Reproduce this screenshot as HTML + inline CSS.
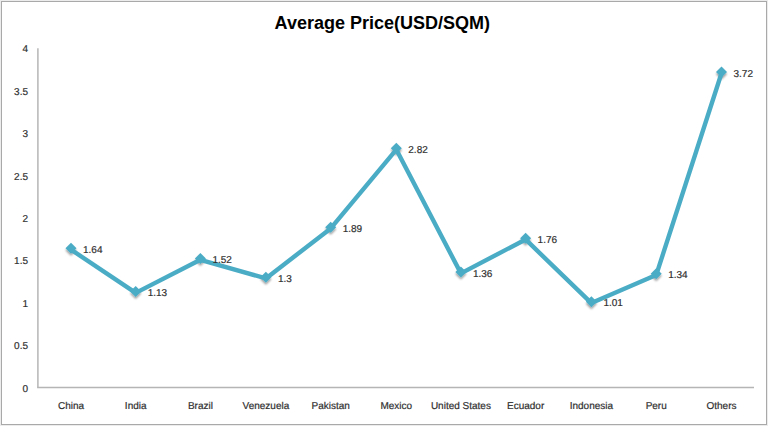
<!DOCTYPE html>
<html><head><meta charset="utf-8"><style>
html,body{margin:0;padding:0;background:#fff;}
svg{display:block;font-family:"Liberation Sans",sans-serif;}
</style></head><body>
<svg width="768" height="426" viewBox="0 0 768 426">
<defs><filter id="sh" x="-50%" y="-50%" width="200%" height="200%"><feGaussianBlur in="SourceAlpha" stdDeviation="1.3"/><feOffset dx="0.3" dy="2" result="b"/><feComponentTransfer><feFuncA type="linear" slope="0.4"/></feComponentTransfer><feMerge><feMergeNode/><feMergeNode in="SourceGraphic"/></feMerge></filter></defs>
<rect x="0" y="0" width="768" height="426" fill="#ececec"/>
<rect x="1.5" y="1.5" width="765" height="423" fill="#fff" stroke="#a9a9a9" stroke-width="1"/>
<line x1="37.9" y1="48.2" x2="37.9" y2="387.5" stroke="#bababa" stroke-width="1.6"/>
<line x1="37.1" y1="387.5" x2="754" y2="387.5" stroke="#b5b5b5" stroke-width="1.7"/>
<text x="382.3" y="29" text-anchor="middle" font-weight="bold" font-size="18" fill="#000">Average Price(USD/SQM)</text>
<text transform="translate(28.00,391.50)" text-rendering="geometricPrecision" text-anchor="end" font-size="10" fill="#303030" stroke="#303030" stroke-width="0.2" >0</text>
<text transform="translate(28.00,349.10)" text-rendering="geometricPrecision" text-anchor="end" font-size="10" fill="#303030" stroke="#303030" stroke-width="0.2" >0.5</text>
<text transform="translate(28.00,306.70)" text-rendering="geometricPrecision" text-anchor="end" font-size="10" fill="#303030" stroke="#303030" stroke-width="0.2" >1</text>
<text transform="translate(28.00,264.30)" text-rendering="geometricPrecision" text-anchor="end" font-size="10" fill="#303030" stroke="#303030" stroke-width="0.2" >1.5</text>
<text transform="translate(28.00,221.90)" text-rendering="geometricPrecision" text-anchor="end" font-size="10" fill="#303030" stroke="#303030" stroke-width="0.2" >2</text>
<text transform="translate(28.00,179.50)" text-rendering="geometricPrecision" text-anchor="end" font-size="10" fill="#303030" stroke="#303030" stroke-width="0.2" >2.5</text>
<text transform="translate(28.00,137.10)" text-rendering="geometricPrecision" text-anchor="end" font-size="10" fill="#303030" stroke="#303030" stroke-width="0.2" >3</text>
<text transform="translate(28.00,94.70)" text-rendering="geometricPrecision" text-anchor="end" font-size="10" fill="#303030" stroke="#303030" stroke-width="0.2" >3.5</text>
<text transform="translate(28.00,52.30)" text-rendering="geometricPrecision" text-anchor="end" font-size="10" fill="#303030" stroke="#303030" stroke-width="0.2" >4</text>
<text transform="translate(71.00,409.20)" text-rendering="geometricPrecision" text-anchor="middle" font-size="10" fill="#303030" stroke="#303030" stroke-width="0.2" >China</text>
<text transform="translate(135.70,409.20)" text-rendering="geometricPrecision" text-anchor="middle" font-size="10" fill="#303030" stroke="#303030" stroke-width="0.2" >India</text>
<text transform="translate(200.40,409.20)" text-rendering="geometricPrecision" text-anchor="middle" font-size="10" fill="#303030" stroke="#303030" stroke-width="0.2" >Brazil</text>
<text transform="translate(265.90,409.20)" text-rendering="geometricPrecision" text-anchor="middle" font-size="10" fill="#303030" stroke="#303030" stroke-width="0.2" >Venezuela</text>
<text transform="translate(330.70,409.20)" text-rendering="geometricPrecision" text-anchor="middle" font-size="10" fill="#303030" stroke="#303030" stroke-width="0.2" >Pakistan</text>
<text transform="translate(396.30,409.20)" text-rendering="geometricPrecision" text-anchor="middle" font-size="10" fill="#303030" stroke="#303030" stroke-width="0.2" >Mexico</text>
<text transform="translate(460.90,409.20)" text-rendering="geometricPrecision" text-anchor="middle" font-size="10" fill="#303030" stroke="#303030" stroke-width="0.2" >United States</text>
<text transform="translate(525.60,409.20)" text-rendering="geometricPrecision" text-anchor="middle" font-size="10" fill="#303030" stroke="#303030" stroke-width="0.2" >Ecuador</text>
<text transform="translate(591.40,409.20)" text-rendering="geometricPrecision" text-anchor="middle" font-size="10" fill="#303030" stroke="#303030" stroke-width="0.2" >Indonesia</text>
<text transform="translate(656.20,409.20)" text-rendering="geometricPrecision" text-anchor="middle" font-size="10" fill="#303030" stroke="#303030" stroke-width="0.2" >Peru</text>
<text transform="translate(721.50,409.20)" text-rendering="geometricPrecision" text-anchor="middle" font-size="10" fill="#303030" stroke="#303030" stroke-width="0.2" >Others</text>
<g filter="url(#sh)">
<polygon points="71.00,242.83 76.50,248.33 71.00,253.83 65.50,248.33" fill="#4BACC6"/>
<polygon points="135.70,286.08 141.20,291.58 135.70,297.08 130.20,291.58" fill="#4BACC6"/>
<polygon points="200.40,253.00 205.90,258.50 200.40,264.00 194.90,258.50" fill="#4BACC6"/>
<polygon points="265.90,271.66 271.40,277.16 265.90,282.66 260.40,277.16" fill="#4BACC6"/>
<polygon points="330.70,221.63 336.20,227.13 330.70,232.63 325.20,227.13" fill="#4BACC6"/>
<polygon points="396.30,142.76 401.80,148.26 396.30,153.76 390.80,148.26" fill="#4BACC6"/>
<polygon points="460.90,266.57 466.40,272.07 460.90,277.57 455.40,272.07" fill="#4BACC6"/>
<polygon points="525.60,232.65 531.10,238.15 525.60,243.65 520.10,238.15" fill="#4BACC6"/>
<polygon points="591.40,296.25 596.90,301.75 591.40,307.25 585.90,301.75" fill="#4BACC6"/>
<polygon points="656.20,268.27 661.70,273.77 656.20,279.27 650.70,273.77" fill="#4BACC6"/>
<polygon points="721.50,66.44 727.00,71.94 721.50,77.44 716.00,71.94" fill="#4BACC6"/>
</g>
<polyline transform="translate(0,1.3)" points="71.00,248.33 135.70,291.58 200.40,258.50 265.90,277.16 330.70,227.13 396.30,148.26 460.90,272.07 525.60,238.15 591.40,301.75 656.20,273.77 721.50,71.94" fill="none" stroke="#4BACC6" stroke-width="4.4" stroke-linejoin="round"/>
<text transform="translate(83.00,252.93)" text-rendering="geometricPrecision" text-anchor="start" font-size="10" fill="#303030" stroke="#303030" stroke-width="0.2" >1.64</text>
<text transform="translate(147.70,296.18)" text-rendering="geometricPrecision" text-anchor="start" font-size="10" fill="#303030" stroke="#303030" stroke-width="0.2" >1.13</text>
<text transform="translate(212.40,263.10)" text-rendering="geometricPrecision" text-anchor="start" font-size="10" fill="#303030" stroke="#303030" stroke-width="0.2" >1.52</text>
<text transform="translate(277.90,281.76)" text-rendering="geometricPrecision" text-anchor="start" font-size="10" fill="#303030" stroke="#303030" stroke-width="0.2" >1.3</text>
<text transform="translate(342.70,231.73)" text-rendering="geometricPrecision" text-anchor="start" font-size="10" fill="#303030" stroke="#303030" stroke-width="0.2" >1.89</text>
<text transform="translate(408.30,152.86)" text-rendering="geometricPrecision" text-anchor="start" font-size="10" fill="#303030" stroke="#303030" stroke-width="0.2" >2.82</text>
<text transform="translate(472.90,276.67)" text-rendering="geometricPrecision" text-anchor="start" font-size="10" fill="#303030" stroke="#303030" stroke-width="0.2" >1.36</text>
<text transform="translate(537.60,242.75)" text-rendering="geometricPrecision" text-anchor="start" font-size="10" fill="#303030" stroke="#303030" stroke-width="0.2" >1.76</text>
<text transform="translate(603.40,306.35)" text-rendering="geometricPrecision" text-anchor="start" font-size="10" fill="#303030" stroke="#303030" stroke-width="0.2" >1.01</text>
<text transform="translate(668.20,278.37)" text-rendering="geometricPrecision" text-anchor="start" font-size="10" fill="#303030" stroke="#303030" stroke-width="0.2" >1.34</text>
<text transform="translate(733.50,76.54)" text-rendering="geometricPrecision" text-anchor="start" font-size="10" fill="#303030" stroke="#303030" stroke-width="0.2" >3.72</text>
</svg>
</body></html>
